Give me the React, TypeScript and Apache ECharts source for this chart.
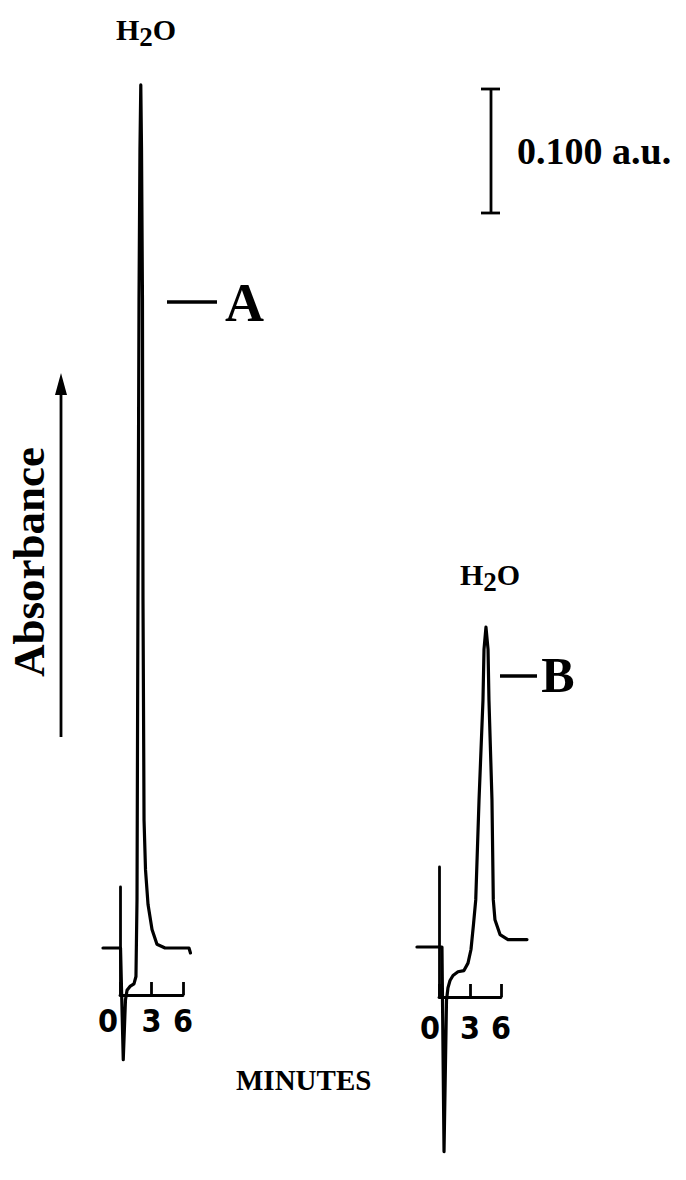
import React, { useEffect, useRef } from "react";
import * as echarts from "echarts";

// ---- Data (minutes, absorbance a.u. relative to baseline) ----
const traceATime = [-1.62, 0.05, 0.31, 0.52, 0.67, 0.95, 1.33, 1.52, 1.62, 1.71, 1.81, 1.9, 1.98, 2.05, 2.14, 2.19, 2.29, 2.43, 2.67, 3.05, 3.52, 4.29, 6.57, 6.71];
const traceAAbs = [0, 0, -0.09, -0.042, -0.034, -0.031, -0.029, -0.023, 0.039, 0.281, 0.523, 0.644, 0.696, 0.644, 0.523, 0.281, 0.103, 0.063, 0.035, 0.015, 0.003, 0, 0, -0.004];

const traceBTime = [-2.23, 0.19, 0.39, 0.63, 0.77, 0.97, 1.26, 1.74, 2.32, 2.71, 3.0, 3.24, 3.46, 3.78, 4.16, 4.26, 4.45, 4.65, 4.74, 5.03, 5.16, 5.32, 5.81, 6.58, 8.42];
const traceBAbs = [0, 0, -0.165, -0.043, -0.033, -0.027, -0.023, -0.02, -0.019, -0.013, -0.002, 0.018, 0.038, 0.119, 0.199, 0.24, 0.258, 0.24, 0.199, 0.119, 0.038, 0.022, 0.01, 0.006, 0.006];

const minuteTicks = [0, 3, 6];
const scaleBarValue = 0.1; // a.u.
const scaleBarLabel = "0.100 a.u.";
const peakLabels = ["A", "B"];
const axisTitleX = "MINUTES";
const axisTitleY = "Absorbance";

// ---- layout constants ----
const PX_PER_AU = 1240;
const Y_MIN = -0.18;
const Y_MAX = 0.72;
const SERIF = "'Liberation Serif', 'Times New Roman', serif";
const NARROW = "'Liberation Sans Narrow', 'DejaVu Sans Condensed', 'Liberation Sans', sans-serif";
const INK = "#000";

function zip(t: number[], v: number[]) {
  return t.map((x, i) => [x, v[i]]);
}

export default function App() {
  const ref = useRef<HTMLDivElement>(null);
  useEffect(() => {
    if (!ref.current) return;
    const chart = echarts.init(ref.current, null, { renderer: "svg" });

    const baseA = 948;
    const baseB = 947;
    const pxMinA = 10.5;
    const pxMinB = 10.33;
    const x0A = 120;
    const x0B = 440;
    const tMax = minuteTicks[minuteTicks.length - 1];
    const tInt = minuteTicks[1] - minuteTicks[0];

    const gridTopA = baseA - Y_MAX * PX_PER_AU;
    const gridTopB = baseB - Y_MAX * PX_PER_AU;
    const gridH = (Y_MAX - Y_MIN) * PX_PER_AU;

    const lineStyle = { color: INK, width: 3.2, cap: "round", join: "round" };

    const timeAxis = (gi: number, zeroPad: number, margin: number) => ({
      gridIndex: gi,
      type: "value",
      min: minuteTicks[0],
      max: tMax,
      interval: tInt,
      axisLine: { show: true, lineStyle: { color: INK, width: 2.8 } },
      axisTick: { show: true, inside: true, length: 13, lineStyle: { color: INK, width: 2.8 } },
      splitLine: { show: false },
      axisLabel: {
        show: true,
        margin,
        color: INK,
        fontFamily: NARROW,
        fontWeight: "bold",
        fontSize: 32,
        formatter: (v: number) => (v === 0 ? "{z|0}" : String(v)),
        rich: {
          z: { padding: [0, zeroPad, 0, 0], fontFamily: NARROW, fontWeight: "bold", fontSize: 32, color: INK },
        },
      },
    });
    const markerAxis = (gi: number) => ({
      gridIndex: gi,
      type: "value",
      min: 0,
      max: 1,
      axisLine: { show: true, lineStyle: { color: INK, width: 2.8 } },
      axisTick: { show: false },
      axisLabel: { show: false },
      splitLine: { show: false },
    });
    const hiddenX = (gi: number, min: number, max: number) => ({
      gridIndex: gi, type: "value", min, max, show: false, splitLine: { show: false },
    });
    const hiddenY = (gi: number) => ({
      gridIndex: gi, type: "value", min: Y_MIN, max: Y_MAX, show: false, splitLine: { show: false },
    });

    const barX = 491;
    const barTop = 89;
    const barLen = scaleBarValue * PX_PER_AU;

    const h2oRich = {
      n: { fontFamily: SERIF, fontWeight: "bold", fontSize: 30, fill: INK, color: INK, verticalAlign: "top", lineHeight: 30 },
      s: { fontFamily: SERIF, fontWeight: "bold", fontSize: 27, fill: INK, color: INK, verticalAlign: "top", lineHeight: 30, padding: [9, 0, 0, 0] },
    };

    const option: any = {
      animation: false,
      backgroundColor: "#fff",
      grid: [
        { left: x0A - 2 * pxMinA, width: 10 * pxMinA, top: gridTopA, height: gridH },
        { left: x0B - 3 * pxMinB, width: 12 * pxMinB, top: gridTopB, height: gridH },
        { left: x0A, width: tMax * pxMinA, top: 887, height: 995 - 887 },
        { left: x0B - 1, width: tMax * pxMinB, top: 867, height: 997 - 867 },
      ],
      xAxis: [hiddenX(0, -2, 8), hiddenX(1, -3, 9), timeAxis(2, 24, 10), timeAxis(3, 18, 15)],
      yAxis: [hiddenY(0), hiddenY(1), markerAxis(2), markerAxis(3)],
      series: [
        { type: "line", xAxisIndex: 0, yAxisIndex: 0, data: zip(traceATime, traceAAbs), showSymbol: false, symbol: "none", lineStyle, clip: false, silent: true },
        { type: "line", xAxisIndex: 1, yAxisIndex: 1, data: zip(traceBTime, traceBAbs), showSymbol: false, symbol: "none", lineStyle, clip: false, silent: true },
        { type: "line", xAxisIndex: 2, yAxisIndex: 2, data: [], symbol: "none" },
        { type: "line", xAxisIndex: 3, yAxisIndex: 3, data: [], symbol: "none" },
      ],
      graphic: [
        // H2O labels
        { type: "text", x: 146, y: 29, style: { text: "{n|H}{s|2}{n|O}", align: "center", verticalAlign: "middle", rich: h2oRich } },
        { type: "text", x: 490, y: 574, style: { text: "{n|H}{s|2}{n|O}", align: "center", verticalAlign: "middle", rich: h2oRich } },
        // Peak labels
        { type: "line", shape: { x1: 167, y1: 302, x2: 217, y2: 302 }, style: { stroke: INK, lineWidth: 3.6 } },
        { type: "text", x: 244.5, y: 302.5, style: { text: peakLabels[0], font: `bold 54px ${SERIF}`, fill: INK, align: "center", verticalAlign: "middle" } },
        { type: "line", shape: { x1: 500, y1: 676, x2: 537, y2: 676 }, style: { stroke: INK, lineWidth: 3.4 } },
        { type: "text", x: 558, y: 674.5, style: { text: peakLabels[1], font: `bold 50px ${SERIF}`, fill: INK, align: "center", verticalAlign: "middle" } },
        // Scale bar
        { type: "line", shape: { x1: barX, y1: barTop, x2: barX, y2: barTop + barLen }, style: { stroke: INK, lineWidth: 2.8 } },
        { type: "line", shape: { x1: barX - 10, y1: barTop, x2: barX + 9, y2: barTop }, style: { stroke: INK, lineWidth: 2.8 } },
        { type: "line", shape: { x1: barX - 10, y1: barTop + barLen, x2: barX + 9, y2: barTop + barLen }, style: { stroke: INK, lineWidth: 2.8 } },
        { type: "text", x: 517, y: 151, style: { text: scaleBarLabel, font: `bold 38px ${SERIF}`, fill: INK, align: "left", verticalAlign: "middle" } },
        // Absorbance arrow
        { type: "line", shape: { x1: 61, y1: 737, x2: 61, y2: 390 }, style: { stroke: INK, lineWidth: 2.8 } },
        { type: "polygon", shape: { points: [[61, 373], [55, 395], [67, 395]] }, style: { fill: INK } },
        { type: "text", x: 29, y: 562, rotation: Math.PI / 2, style: { text: axisTitleY, font: `bold 45px ${SERIF}`, fill: INK, align: "center", verticalAlign: "middle" } },
        // MINUTES
        { type: "text", x: 236, y: 1080, style: { text: axisTitleX, font: `bold 29px ${SERIF}`, fill: INK, align: "left", verticalAlign: "middle" } },
      ],
    };
    chart.setOption(option);
    return () => chart.dispose();
  }, []);
  return <div ref={ref} style={{ position: "fixed", left: 0, top: 0, width: 686, height: 1180, background: "#fff" }} />;
}
